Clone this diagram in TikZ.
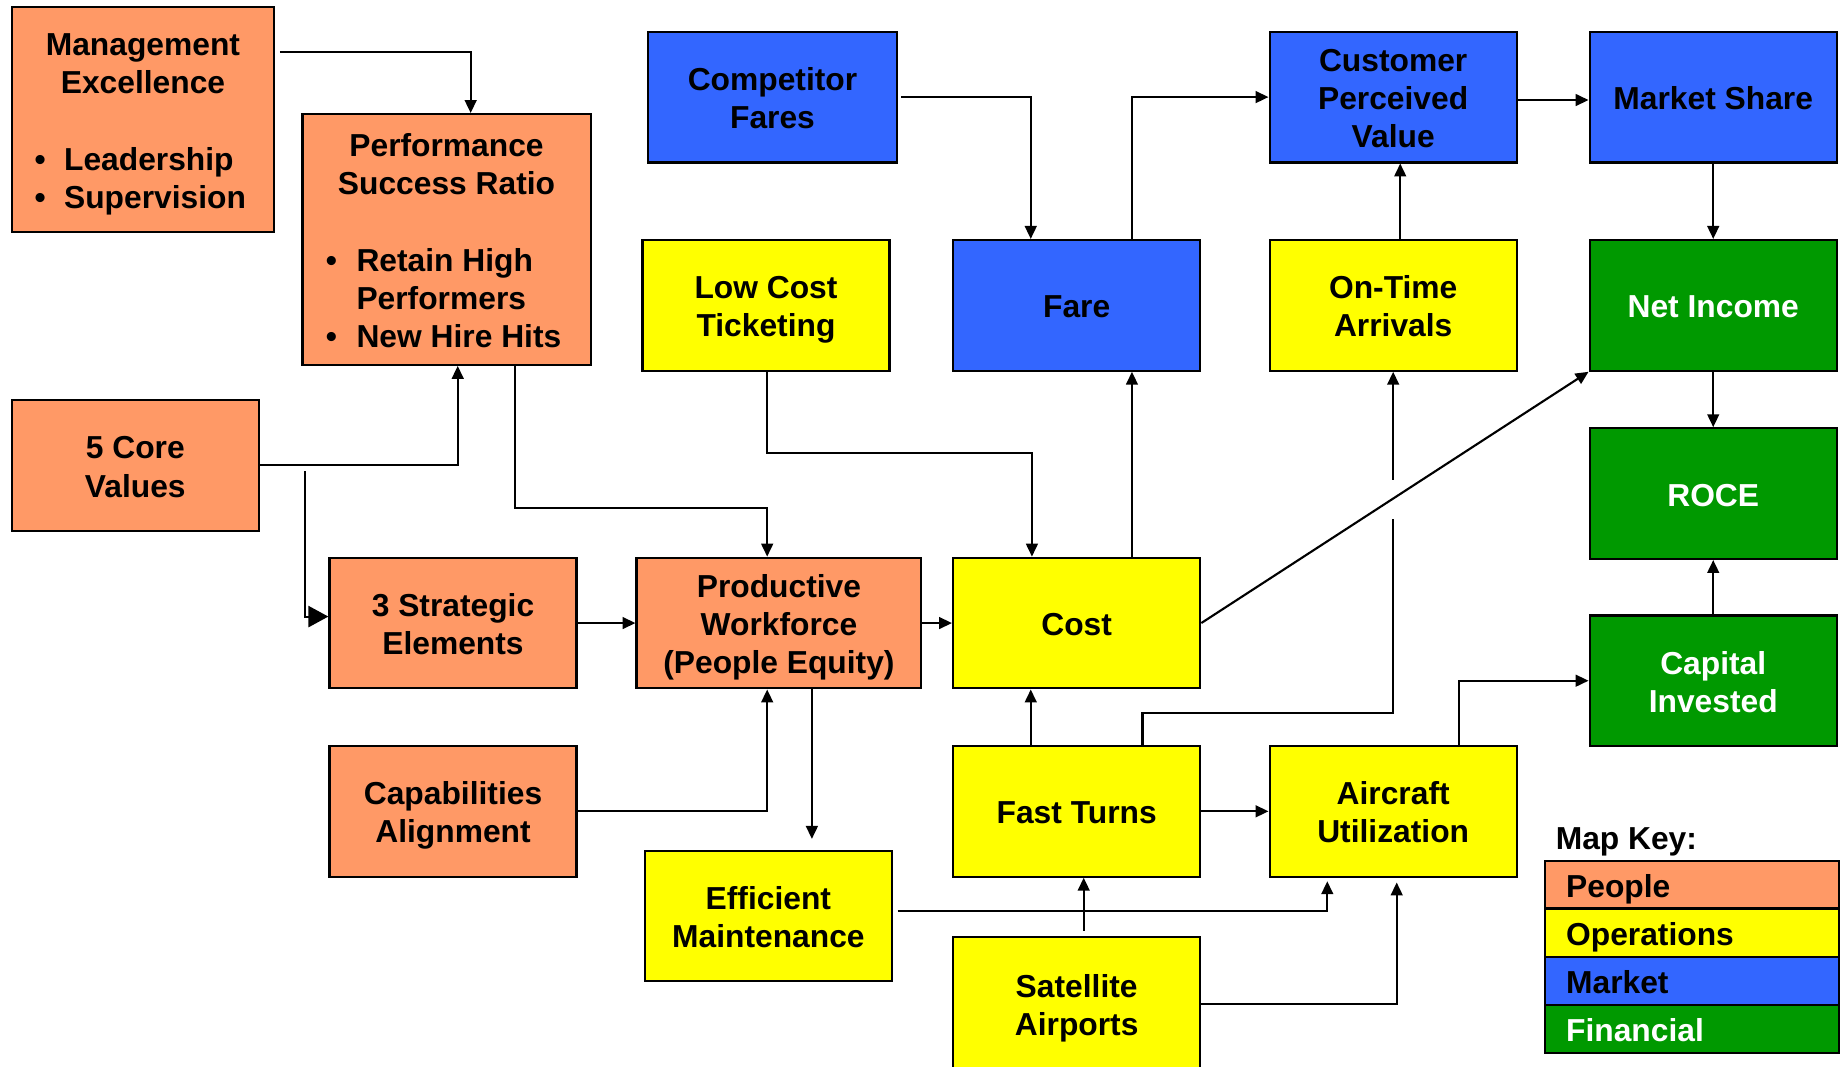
\documentclass[tikz,border=0pt]{standalone}
\usepackage{fontspec}
\setmainfont{Liberation Sans}
\usetikzlibrary{arrows.meta,intersections}
\definecolor{peoplec}{HTML}{FF9966}
\definecolor{opsc}{HTML}{FFFF00}
\definecolor{marketc}{HTML}{3366FF}
\definecolor{finc}{HTML}{009900}
% bullet item with a hanging indent
\newcommand{\bitem}[2]{\makebox[#1][l]{\hspace{-5pt}\textbullet}#2}
% centred text block; the tall rule in the first row lowers the lines a little
\newcommand{\tb}[1]{\begin{tabular}{@{}c@{}}\rule{0pt}{31pt}#1\end{tabular}}
\newcommand{\tbl}[1]{\begin{tabular}{@{}l@{}}\rule{0pt}{31pt}#1\end{tabular}}
\begin{document}
\begin{tikzpicture}[x=1pt,y=-1pt,
  box/.style={draw=black, line width=1.9pt, minimum width=210pt, minimum height=111pt,
    inner sep=0pt, font=\bfseries\fontsize{27}{32.5}\selectfont},
  people/.style={box, fill=peoplec},
  ops/.style={box, fill=opsc},
  market/.style={box, fill=marketc},
  fin/.style={box, fill=finc, text=white},
  conn/.style={line width=1.8pt, -{Triangle[length=11pt,width=10pt]}},
  bigconn/.style={line width=1.8pt, -{Triangle[length=17pt,width=18pt]}},
  keyrow/.style={draw=black, line width=1.9pt, minimum width=250pt, minimum height=41pt,
    inner xsep=18pt, inner ysep=0pt, font=\bfseries\fontsize{27}{32.5}\selectfont},
]
\useasboundingbox[fill=white] (0,0) rectangle (1568,906);

% ---- People ----
\node[people, minimum width=223pt, minimum height=191pt] (mgmt) at (121.5,101.5)
  {\tb{Management\\Excellence\\[32.5pt]
   \makebox[174pt][l]{\bitem{20pt}{Leadership}}\\
   \makebox[174pt][l]{\bitem{20pt}{Supervision}}}};
\node[people, minimum width=245pt, minimum height=213pt] (psr) at (379.5,203.5)
  {\tb{Performance\\Success Ratio\\[32.5pt]
   \makebox[195pt][l]{\bitem{21pt}{Retain High}}\\
   \makebox[195pt][l]{\hspace{21pt}Performers}\\
   \makebox[195pt][l]{\bitem{21pt}{New Hire Hits}}}};
\node[people] (core) at (115,395.5) {\tb{5 Core\\Values}};
\node[people] (strat) at (385,529.5) {\tb{3 Strategic\\Elements}};
\node[people] (capab) at (385,689.5) {\tb{Capabilities\\Alignment}};
\node[people, minimum width=242pt] (prod) at (662,529.5) {\tb{Productive\\Workforce\\(People Equity)}};

% ---- Operations ----
\node[ops] (lowcost) at (651,259.5) {\tb{Low Cost\\Ticketing}};
\node[ops] (maint) at (653,778.5) {\tb{Efficient\\Maintenance}};
\node[ops] (cost) at (915,529.5) {\tb{Cost}};
\node[ops] (fast) at (915,689.5) {\tb{Fast Turns}};
\node[ops, minimum height=114pt] (sat) at (915,853) {\tb{Satellite\\Airports}};
\node[ops] (ontime) at (1184,259.5) {\tb{On-Time\\Arrivals}};
\node[ops] (aircraft) at (1184,689.5) {\tb{Aircraft\\Utilization}};

% ---- Market ----
\node[market, minimum width=211pt] (comp) at (656.5,82.5) {\tb{Competitor\\Fares}};
\node[market] (fare) at (915,259.5) {\tb{Fare}};
\node[market] (cpv) at (1184,82.5) {\tb{Customer\\Perceived\\Value}};
\node[market] (mshare) at (1456,82.5) {\tb{Market Share}};

% ---- Financial ----
\node[fin] (netinc) at (1456,259.5) {\tb{Net Income}};
\node[fin] (roce) at (1456,419.5) {\tb{ROCE}};
\node[fin] (capital) at (1456,578.5) {\tb{Capital\\Invested}};

% ---- Connectors ----
\draw[conn] ([xshift=4pt,yshift=-39pt]mgmt.north east) -| ([xshift=20.5pt]psr.north);
\draw[conn] (core.east) -| ([xshift=9.5pt]psr.south);
\draw[bigconn] ([xshift=38pt,yshift=-5pt]core.east) |- ([yshift=5.5pt]strat.west);
\draw[conn] ([xshift=58.5pt]psr.south) -- ++(0,121) -| ([xshift=-10pt]prod.north);
\draw[conn] ([xshift=1pt]lowcost.south) -- ++(0,69) -| ([xshift=-38pt]cost.north);
\draw[conn] (strat.east) -- (prod.west);
\draw[conn] (prod.east) -- (cost.west);
\draw[conn] (capab.east) -| ([xshift=-10pt]prod.south);
\draw[conn] ([xshift=28pt]prod.south) -- ++(0,127);
\draw[conn] ([xshift=3pt]comp.east) -| ([xshift=-39pt]fare.north);
\draw[conn] ([xshift=47pt]fare.north) |- (cpv.west);
\draw[conn] ([xshift=47pt]cost.north) -- ([xshift=47pt]fare.south);
\draw[conn] ([yshift=-2.5pt]cpv.east) -- ([yshift=-2.5pt]mshare.west);
\draw[conn] ([xshift=6pt]ontime.north) -- ([xshift=6pt]cpv.south);
\draw[conn] (mshare.south) -- (netinc.north);
\draw[conn] (netinc.south) -- (roce.north);
\draw[conn] (capital.north) -- (roce.south);
\draw[conn] ([xshift=-39pt]fast.north) -- ([xshift=-39pt]cost.south);
\draw[conn] (fast.east) -- (aircraft.west);
\draw[conn] ([xshift=4pt,yshift=4.5pt]maint.east) -| ([xshift=-56pt,yshift=-3pt]aircraft.south);
\draw[conn] ([xshift=6pt,yshift=4pt]sat.north) -- ([xshift=6pt]fast.south);
\draw[conn] ([yshift=0pt]sat.east) -| ([xshift=3pt,yshift=-4pt]aircraft.south);
\draw[conn] ([xshift=56pt]aircraft.north) |- (capital.west);

% Fast Turns -> On-Time Arrivals, broken where the Cost -> Net Income line crosses it
\path[name path=diag] (cost.east) -- (netinc.south west);
\draw[conn, name path=ftline] ([xshift=56pt]fast.north) -- ++(0,-27) -| (ontime.south);
\path[name intersections={of=diag and ftline, by=hop}];
\draw[white, line width=5pt] ([yshift=16pt]hop) -- ([yshift=-17pt]hop);
\draw[conn] (cost.east) -- (netinc.south west);

% ---- Map key ----
\node[anchor=west, inner sep=0pt, font=\bfseries\fontsize{27}{32.5}\selectfont] (keytitle) at (1322,711) {\tbl{Map Key:}};
\node[keyrow, fill=peoplec] (kpeople) at (1438,752) {\makebox[214pt][l]{\tbl{People}}};
\node[keyrow, fill=opsc] (kops) at (1438,792.5) {\makebox[214pt][l]{\tbl{Operations}}};
\node[keyrow, fill=marketc] (kmarket) at (1438,833.5) {\makebox[214pt][l]{\tbl{Market}}};
\node[keyrow, fill=finc, text=white] (kfin) at (1438,874.5) {\makebox[214pt][l]{\tbl{Financial}}};
\end{tikzpicture}
\end{document}
